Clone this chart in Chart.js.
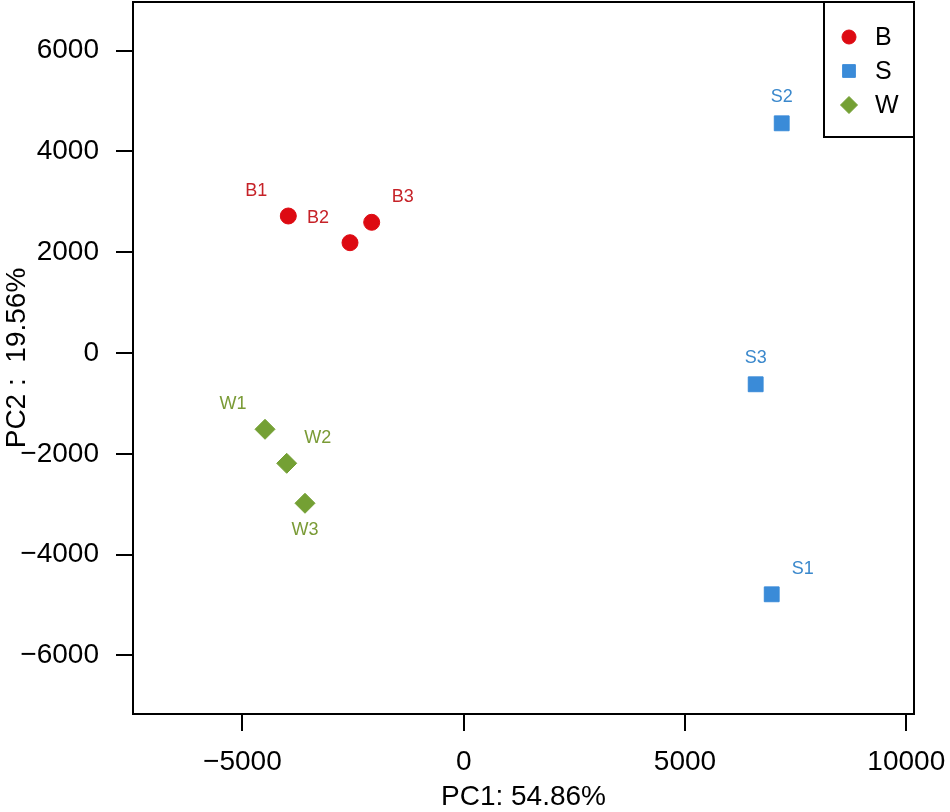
<!DOCTYPE html>
<html>
<head>
<meta charset="utf-8">
<script src="https://cdn.jsdelivr.net/npm/chart.js@4.4.1/dist/chart.umd.min.js"></script>
<style>
  html, body { margin: 0; padding: 0; background: #fff; }
  #pca { display: block; }
</style>
</head>
<body>
<canvas id="pca" width="950" height="812"></canvas>
<script>
// sample scores
const groupNames = ["B", "S", "W"];

const bNames = ["B1", "B2", "B3"];
const bPC1 = [-3963, -2569, -2079];
const bPC2 = [2718, 2188, 2593];

const sNames = ["S1", "S2", "S3"];
const sPC1 = [6959, 7185, 6597];
const sPC2 = [-4788, 4557, -621];

const wNames = ["W1", "W2", "W3"];
const wPC1 = [-4489, -3999, -3586];
const wPC2 = [-1514, -2189, -2982];

const xTicks = [-5000, 0, 5000, 10000];
const yTicks = [-6000, -4000, -2000, 0, 2000, 4000, 6000];

const xTitle = "PC1: 54.86%";
const yTitle = "PC2 :  19.56%";

const FONT = "'Liberation Sans', Arial, Helvetica, sans-serif";

function toPoints(names, xs, ys) {
  return names.map((n, i) => ({ x: xs[i], y: ys[i], name: n }));
}

// where each sample name sits relative to its marker
const labelSide = {
  B1: "ul", B2: "ul", B3: "ur",
  S1: "ur", S2: "above", S3: "above",
  W1: "ul", W2: "ur", W3: "below",
};
const sideOffset = {
  ul: [-32, -25],
  ur: [31, -25],
  above: [0, -26],
  below: [0, 27],
};

const pointLabels = {
  id: "pointLabels",
  afterDatasetsDraw(chart) {
    const ctx = chart.ctx;
    ctx.save();
    ctx.font = "18px " + FONT;
    ctx.textAlign = "center";
    ctx.textBaseline = "middle";
    chart.data.datasets.forEach((ds, di) => {
      const meta = chart.getDatasetMeta(di);
      ctx.fillStyle = ds.labelColor;
      meta.data.forEach((el, i) => {
        const name = ds.data[i].name;
        const off = sideOffset[labelSide[name]] || [0, -26];
        ctx.fillText(name, el.x + off[0], el.y + off[1]);
      });
    });
    ctx.restore();
  },
};

function drawMarker(ctx, style, r, x, y) {
  ctx.beginPath();
  if (style === "circle") {
    ctx.arc(x, y, r, 0, Math.PI * 2);
  } else if (style === "rect") {
    const h = r * Math.SQRT1_2;
    ctx.rect(x - h, y - h, 2 * h, 2 * h);
  } else {
    ctx.moveTo(x, y - r);
    ctx.lineTo(x + r, y);
    ctx.lineTo(x, y + r);
    ctx.lineTo(x - r, y);
    ctx.closePath();
  }
  ctx.fill();
  ctx.stroke();
}

const frameAndLegend = {
  id: "frameAndLegend",
  afterDraw(chart) {
    const ctx = chart.ctx;
    const a = chart.chartArea;
    ctx.save();
    ctx.strokeStyle = "#000";
    ctx.lineWidth = 2;
    ctx.strokeRect(a.left, a.top, a.right - a.left, a.bottom - a.top);

    // legend box in the top right corner
    const boxW = 90, boxH = 135;
    const bx = a.right - boxW, by = a.top;
    ctx.fillStyle = "#fff";
    ctx.fillRect(bx, by, boxW, boxH);
    ctx.strokeRect(bx, by, boxW, boxH);

    chart.data.datasets.forEach((ds, i) => {
      const cy = by + 35 + i * 34;
      const cx = bx + 25;
      ctx.fillStyle = ds.backgroundColor;
      ctx.strokeStyle = ds.borderColor;
      ctx.lineWidth = 1;
      drawMarker(ctx, ds.pointStyle, ds.legendRadius, cx, cy);
      ctx.fillStyle = "#000";
      ctx.font = "25px " + FONT;
      ctx.textAlign = "left";
      ctx.textBaseline = "middle";
      ctx.fillText(ds.label, bx + 51, cy + 1);
    });
    ctx.restore();
  },
};

const tickFmt = (v) => (v < 0 ? "\u2212" + Math.abs(v) : String(v));

new Chart(document.getElementById("pca"), {
  type: "scatter",
  data: {
    datasets: [
      {
        label: groupNames[0],
        data: toPoints(bNames, bPC1, bPC2),
        pointStyle: "circle",
        pointRadius: 8,
        backgroundColor: "#DD0A12",
        borderColor: "#DD0A12",
        borderWidth: 1,
        labelColor: "#C62228",
        legendRadius: 7,
      },
      {
        label: groupNames[1],
        data: toPoints(sNames, sPC1, sPC2),
        pointStyle: "rect",
        pointRadius: 10.5,
        backgroundColor: "#3A8BD8",
        borderColor: "#3A8BD8",
        borderWidth: 1,
        labelColor: "#3A88CC",
        legendRadius: 9,
      },
      {
        label: groupNames[2],
        data: toPoints(wNames, wPC1, wPC2),
        pointStyle: "rectRot",
        pointRadius: 10,
        backgroundColor: "#74A034",
        borderColor: "#74A034",
        borderWidth: 1,
        labelColor: "#7A9B36",
        legendRadius: 8.5,
      },
    ],
  },
  options: {
    responsive: false,
    animation: false,
    layout: {
      autoPadding: false,
      padding: { top: 2, right: 36, left: 0, bottom: 0 },
    },
    plugins: {
      legend: { display: false },
      tooltip: { enabled: false },
    },
    scales: {
      x: {
        type: "linear",
        min: -7472,
        max: 10174,
        afterBuildTicks: (scale) => {
          scale.ticks = xTicks.map((v) => ({ value: v }));
        },
        afterFit: (scale) => {
          scale.height = 98;
          scale.paddingLeft = 0;
          scale.paddingRight = 0;
        },
        grid: {
          drawOnChartArea: false,
          drawTicks: true,
          tickLength: 17,
          color: "#000",
          lineWidth: 2,
        },
        border: { display: false },
        ticks: {
          color: "#000",
          font: { family: FONT, size: 28 },
          padding: 14,
          maxRotation: 0,
          callback: tickFmt,
        },
        title: {
          display: true,
          text: xTitle,
          color: "#000",
          font: { family: FONT, size: 28 },
          padding: { top: 0, bottom: -2 },
        },
      },
      y: {
        type: "linear",
        min: -7163,
        max: 6964,
        afterBuildTicks: (scale) => {
          scale.ticks = yTicks.map((v) => ({ value: v }));
        },
        afterFit: (scale) => {
          scale.width = 133;
          scale.paddingTop = 0;
          scale.paddingBottom = 0;
        },
        grid: {
          drawOnChartArea: false,
          drawTicks: true,
          tickLength: 17,
          color: "#000",
          lineWidth: 2,
        },
        border: { display: false },
        ticks: {
          color: "#000",
          font: { family: FONT, size: 28 },
          padding: 17,
          callback: tickFmt,
        },
        title: {
          display: true,
          text: yTitle,
          color: "#000",
          font: { family: FONT, size: 28 },
          padding: { top: 0, bottom: 0 },
        },
      },
    },
  },
  plugins: [pointLabels, frameAndLegend],
});
</script>
</body>
</html>
